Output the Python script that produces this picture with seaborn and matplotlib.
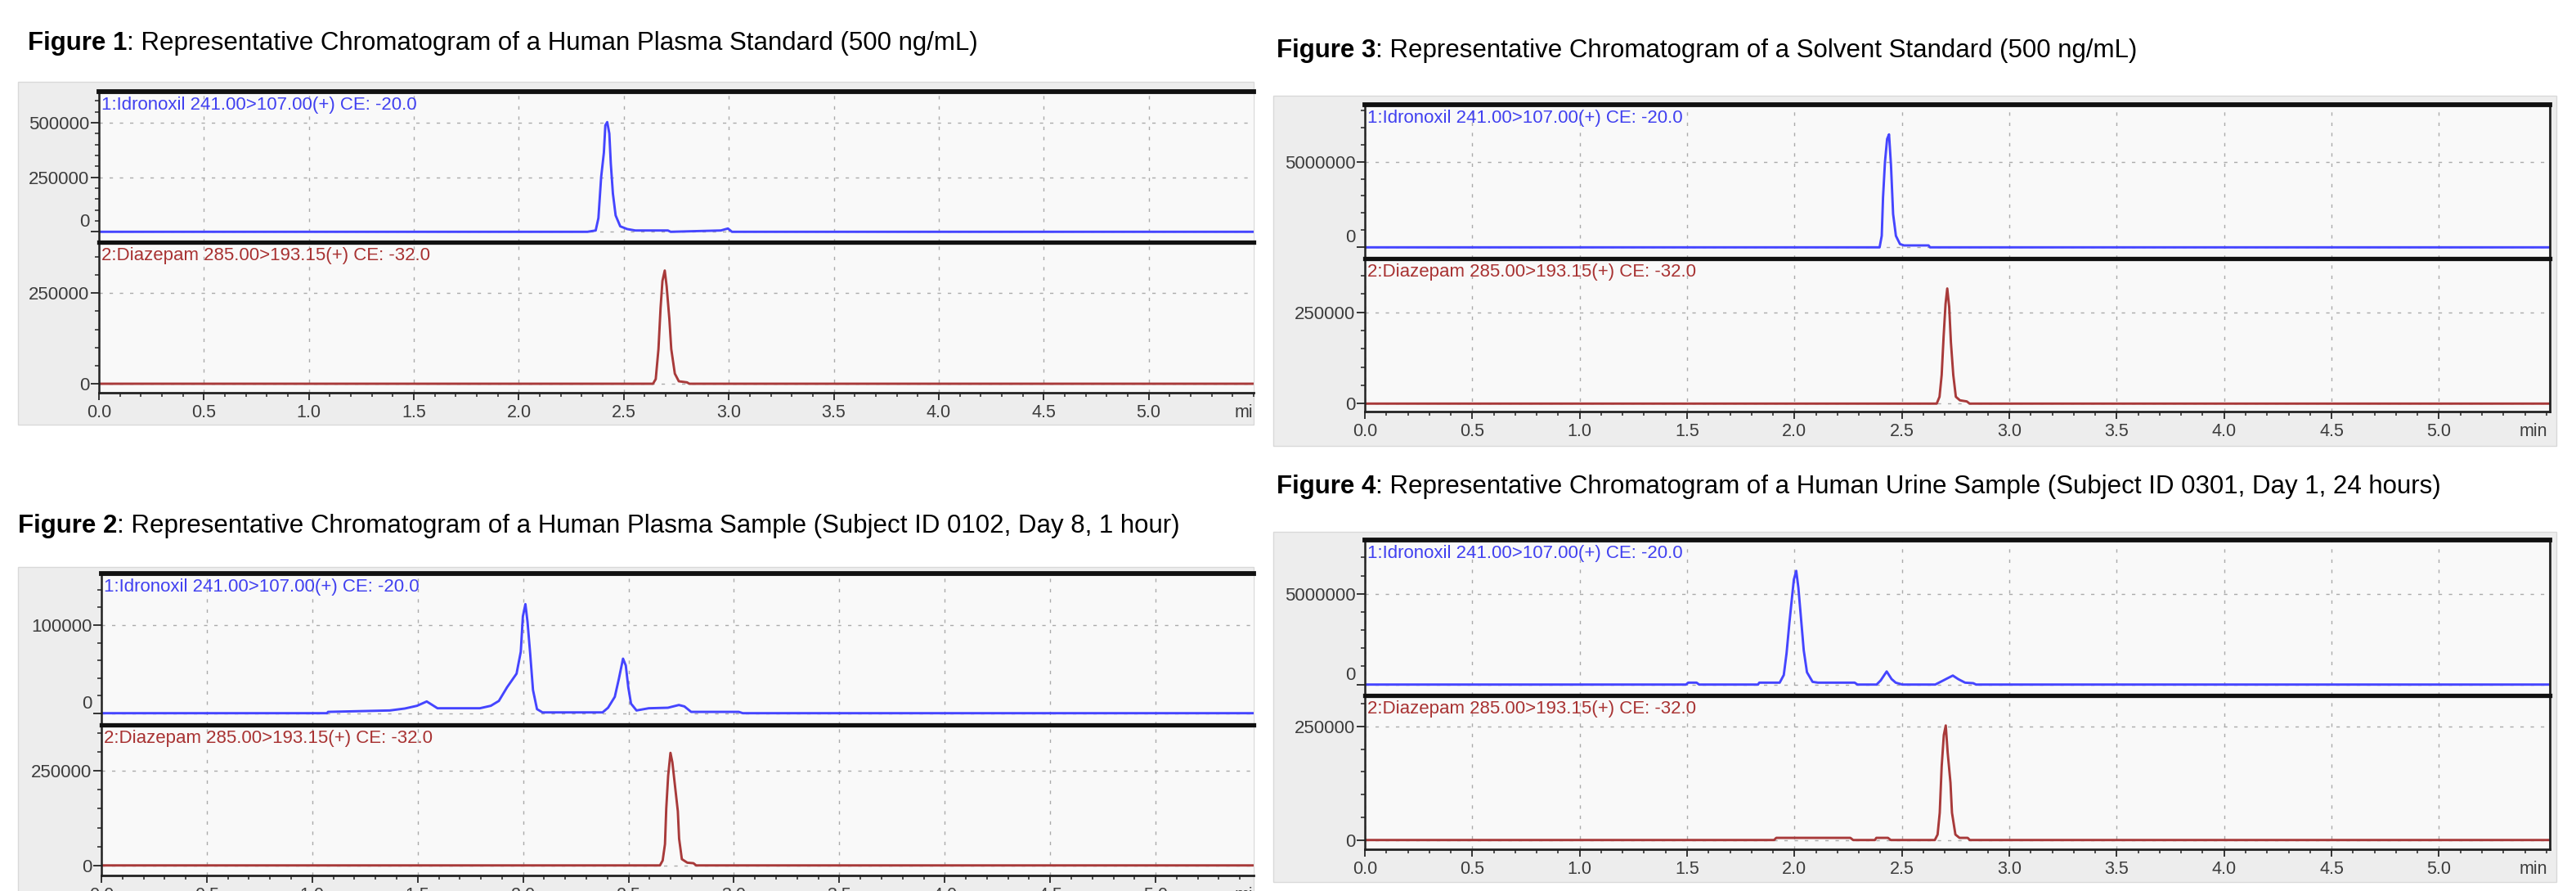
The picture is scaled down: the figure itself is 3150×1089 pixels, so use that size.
import matplotlib
matplotlib.use("Agg")
import matplotlib.pyplot as plt
import seaborn as sns
from matplotlib.patches import Rectangle
from matplotlib.ticker import FixedLocator, MultipleLocator, FuncFormatter, FormatStrFormatter
from matplotlib.transforms import ScaledTranslation, Bbox, TransformedBbox

sns.set_theme(style="white")
plt.rcParams["font.family"] = ["Liberation Sans", "DejaVu Sans"]

W, H, DPI = 3150, 1089, 100

# ---- traces: time (min) / intensity ----
fig1_ido_t = [0.0, 2.327, 2.366, 2.379, 2.392, 2.405, 2.412, 2.421, 2.431, 2.438, 2.448, 2.461,
              2.483, 2.516, 2.555, 2.710, 2.723, 2.962, 2.996, 3.015, 5.6]
fig1_ido_y = [0, 0, 6000, 62500, 250000, 362500, 487500, 502500, 450000, 312500, 175000, 75000,
              25000, 12500, 6000, 6000, 0, 6000, 15000, 0, 0]
fig1_dzp_t = [0.0, 2.639, 2.652, 2.665, 2.675, 2.684, 2.695, 2.704, 2.717, 2.726, 2.743, 2.762,
              2.801, 2.812, 5.6]
fig1_dzp_y = [0, 0, 12800, 95600, 208600, 283900, 312500, 268800, 178500, 95600, 27900, 6800,
              3800, 0, 0]

fig2_ido_t = [0.0, 1.070, 1.075, 1.368, 1.439, 1.497, 1.543, 1.594, 1.795, 1.847, 1.885, 1.924,
              1.969, 1.989, 1.999, 2.011, 2.021, 2.034, 2.047, 2.066, 2.092, 2.377, 2.403, 2.435,
              2.454, 2.474, 2.487, 2.499, 2.512, 2.538, 2.596, 2.687, 2.739, 2.765, 2.797, 3.023,
              3.042, 5.6]
fig2_ido_y = [0, 0, 1500, 3100, 5300, 8400, 13300, 5600, 5600, 8400, 13900, 29400,
              44900, 69700, 109900, 123800, 103700, 66600, 26300, 4600, 900, 900, 6200, 18600,
              38700, 61900, 54200, 29400, 10800, 3100, 5600, 6200, 9300, 7700, 1500, 1500,
              0, 0]
fig2_dzp_t = [0.0, 2.649, 2.662, 2.673, 2.679, 2.688, 2.699, 2.708, 2.721, 2.734, 2.740, 2.753,
              2.779, 2.808, 2.821, 5.6]
fig2_dzp_y = [0, 0, 13000, 56400, 150300, 237000, 298000, 273100, 208100, 143100, 70800, 16600,
              7200, 5800, 0, 0]

fig3_ido_t = [0.0, 2.396, 2.406, 2.412, 2.421, 2.431, 2.440, 2.449, 2.459, 2.472, 2.491, 2.510,
              2.624, 2.631, 5.6]
fig3_ido_y = [0, 0, 669000, 2900000, 4970000, 6320000, 6590000, 4810000, 1940000, 669000, 191000,
              111000, 111000, 0, 0]
fig3_dzp_t = [0.0, 2.662, 2.675, 2.685, 2.694, 2.703, 2.711, 2.720, 2.728, 2.739, 2.751, 2.770,
              2.802, 2.815, 5.6]
fig3_dzp_y = [0, 0, 18700, 78400, 182800, 272400, 314900, 264900, 167900, 78400, 18700, 9000,
              6000, 0, 0]

fig4_ido_t = [0.0, 1.495, 1.505, 1.544, 1.556, 1.830, 1.836, 1.931, 1.950, 1.963, 1.976, 1.989,
              1.997, 2.008, 2.018, 2.030, 2.043, 2.058, 2.084, 2.109, 2.280, 2.293, 2.382, 2.401,
              2.429, 2.452, 2.471, 2.502, 2.655, 2.680, 2.712, 2.737, 2.762, 2.794, 2.832, 2.845,
              5.6]
fig4_ido_y = [0, 0, 105000, 105000, 0, 0, 105000, 105000, 525000, 1730000, 3380000, 4880000,
              5780000, 6260000, 5330000, 3680000, 1880000, 676000, 150000, 105000, 105000, 0, 0, 225000,
              721000, 300000, 105000, 0, 0, 150000, 345000, 495000, 300000, 105000, 75000, 0,
              0]
fig4_dzp_t = [0.0, 1.905, 1.915, 2.260, 2.273, 2.374, 2.381, 2.435, 2.448, 2.653, 2.666, 2.676,
              2.685, 2.695, 2.704, 2.713, 2.726, 2.733, 2.749, 2.768, 2.806, 2.816, 5.6]
fig4_dzp_y = [0, 0, 4800, 4800, 0, 0, 4800, 4800, 0, 0, 12000, 60000,
              161900, 230800, 251800, 191800, 125900, 60000, 12000, 4800, 4800, 0, 0]

# ---- texts and tick values ----
IDO_LABEL = "1:Idronoxil 241.00>107.00(+) CE: -20.0"
DZP_LABEL = "2:Diazepam 285.00>193.15(+) CE: -32.0"
fig_nums = ["Figure 1", "Figure 2", "Figure 3", "Figure 4"]
fig_titles = [
    ": Representative Chromatogram of a Human Plasma Standard (500 ng/mL)",
    ": Representative Chromatogram of a Human Plasma Sample (Subject ID 0102, Day 8, 1 hour)",
    ": Representative Chromatogram of a Solvent Standard (500 ng/mL)",
    ": Representative Chromatogram of a Human Urine Sample (Subject ID 0301, Day 1, 24 hours)",
]
time_majors = [0.0, 0.5, 1.0, 1.5, 2.0, 2.5, 3.0, 3.5, 4.0, 4.5, 5.0]
ido_majors = [[0, 250000, 500000], [0, 100000], [0, 5000000], [0, 5000000]]
ido_minor = [50000, 20000, 1000000, 1000000]
dzp_majors = [[0, 250000], [0, 250000], [0, 250000], [0, 250000]]
dzp_minor = [50000, 50000, 50000, 50000]

# ---- layout in reference pixels (top-left origin) ----
panels = [
    dict(left=121, right=1533, top=112, mid=296, bot=480, xmax=5.50,
         ylim_top=(-47600, 642000), ylim_bot=(-24800, 390700),
         bg=(22, 100, 1533, 519), title=(34, 61), right_spine=False),
    dict(left=124, right=1533, top=701, mid=886, bot=1070, xmax=5.465,
         ylim_top=(-13300, 158500), ylim_bot=(-26600, 372000),
         bg=(22, 693, 1533, 1095), title=(22, 651), right_spine=False),
    dict(left=1669, right=3118, top=128, mid=316, bot=503, xmax=5.516,
         ylim_top=(-654000, 8320000), ylim_bot=(-21700, 396800),
         bg=(1557, 117, 3126, 545), title=(1561, 70), right_spine=True),
    dict(left=1669, right=3118, top=660, mid=850, bot=1038, xmax=5.516,
         ylim_top=(-600000, 7960000), ylim_bot=(-20300, 317800),
         bg=(1557, 650, 3126, 1078), title=(1561, 603), right_spine=True),
]
traces = [
    (fig1_ido_t, fig1_ido_y, fig1_dzp_t, fig1_dzp_y),
    (fig2_ido_t, fig2_ido_y, fig2_dzp_t, fig2_dzp_y),
    (fig3_ido_t, fig3_ido_y, fig3_dzp_t, fig3_dzp_y),
    (fig4_ido_t, fig4_ido_y, fig4_dzp_t, fig4_dzp_y),
]

BLUE, RED = "#4545ff", "#a83a3a"
BLUE_TXT, RED_TXT = "#4040f0", "#a83232"
PANEL_BG, PLOT_BG, GRID, TICK_TXT = "#ededed", "#f9f9f9", "#ababab", "#3c3c3c"

fig = plt.figure(figsize=(W / DPI, H / DPI), dpi=DPI)
fig.patch.set_facecolor("white")


def rect(x0, y0, x1, y1):
    return [x0 / W, 1 - y1 / H, (x1 - x0) / W, (y1 - y0) / H]


def style(ax, p, ylim, majors, minor_step, lower):
    ax.set_facecolor(PLOT_BG)
    ax.set_xlim(0, p["xmax"])
    ax.set_ylim(*ylim)
    ax.xaxis.set_major_locator(FixedLocator(time_majors))
    ax.xaxis.set_minor_locator(MultipleLocator(0.1))
    ax.xaxis.set_major_formatter(FormatStrFormatter("%.1f"))
    ax.yaxis.set_major_locator(FixedLocator(majors))
    ax.yaxis.set_minor_locator(MultipleLocator(minor_step))
    ax.yaxis.set_major_formatter(FuncFormatter(lambda v, pos: f"{v:.0f}"))
    ax.grid(True, which="major", color=GRID, lw=1.0, ls=(0, (3, 6)))
    ax.set_xlabel("")
    ax.set_ylabel("")
    ax.tick_params(axis="y", which="major", direction="out", length=7, width=1.4,
                   color="#333333", labelsize=16, labelcolor=TICK_TXT, pad=1.5, left=True, right=False)
    ax.tick_params(axis="y", which="minor", direction="out", length=3.5, width=1.2,
                   color="#333333", left=True, right=False)
    if lower:
        ax.tick_params(axis="x", which="major", direction="out", length=6.5, width=1.4,
                       color="#333333", labelsize=15.5, labelcolor=TICK_TXT, pad=3.5, bottom=True)
        ax.tick_params(axis="x", which="minor", direction="out", length=3.5, width=1.2,
                       color="#333333", bottom=True)
        ax.spines["top"].set_linewidth(3.8)
        ax.spines["bottom"].set_linewidth(2.0)
        ax.spines["bottom"].set_color("#222222")
    else:
        ax.tick_params(axis="x", which="both", bottom=False, labelbottom=False)
        ax.spines["top"].set_linewidth(4.2)
        ax.spines["bottom"].set_visible(False)
    ax.spines["top"].set_color("#111111")
    ax.spines["left"].set_linewidth(1.8)
    ax.spines["left"].set_color("#222222")
    if p["right_spine"]:
        ax.spines["right"].set_linewidth(2.0)
        ax.spines["right"].set_color("#222222")
    else:
        ax.spines["right"].set_visible(False)


for i, p in enumerate(panels):
    bx0, by0, bx1, by1 = p["bg"]
    fig.add_artist(Rectangle((bx0 / W, 1 - by1 / H), (bx1 - bx0) / W, (by1 - by0) / H,
                             transform=fig.transFigure, facecolor=PANEL_BG,
                             edgecolor="#d9d9d9", lw=1, zorder=-1))

    # title: bold figure number + plain caption
    tx, ty = p["title"]
    num = fig.text(tx / W, 1 - ty / H, fig_nums[i], fontsize=22.5, fontweight="bold",
                   color="black", ha="left", va="baseline")

    ax_top = fig.add_axes(rect(p["left"], p["top"], p["right"], p["mid"]))
    ax_bot = fig.add_axes(rect(p["left"], p["mid"], p["right"], p["bot"]))
    ax_top.annotate(fig_titles[i], xy=(1, 0), xycoords=num, ha="left", va="bottom",
                    fontsize=22.5, color="black", annotation_clip=False)

    ido_t, ido_y, dzp_t, dzp_y = traces[i]
    sns.lineplot(x=ido_t, y=ido_y, ax=ax_top, color=BLUE, linewidth=2.1,
                 sort=False, estimator=None)
    sns.lineplot(x=dzp_t, y=dzp_y, ax=ax_bot, color=RED, linewidth=2.1,
                 sort=False, estimator=None)

    style(ax_top, p, p["ylim_top"], ido_majors[i], ido_minor[i], lower=False)
    style(ax_bot, p, p["ylim_bot"], dzp_majors[i], dzp_minor[i], lower=True)

    ax_top.annotate(IDO_LABEL, xy=(0, 1), xycoords="axes fraction", xytext=(2, -4.5),
                    textcoords="offset points", ha="left", va="top", fontsize=16, color=BLUE_TXT)
    ax_bot.annotate(DZP_LABEL, xy=(0, 1), xycoords="axes fraction", xytext=(2, -4.5),
                    textcoords="offset points", ha="left", va="top", fontsize=16, color=RED_TXT)

    # time unit at the end of the tick row
    if p["right_spine"]:
        ax_bot.annotate("min", xy=(1, 0), xycoords="axes fraction", xytext=(-2, -10),
                        textcoords="offset points", ha="right", va="top",
                        fontsize=15.5, color=TICK_TXT)
    else:
        unit = ax_bot.annotate("min", xy=((1510 - p["left"]) / (p["right"] - p["left"]), 0),
                               xycoords="axes fraction", xytext=(0, -10),
                               textcoords="offset points", ha="left", va="top",
                               fontsize=15.5, color=TICK_TXT, annotation_clip=False)
        unit.set_clip_box(TransformedBbox(Bbox.from_extents(0, 0, p["right"] / W, 1),
                                          fig.transFigure))
        unit.set_clip_on(True)

    # the software lifts the zero label of the upper trace off the separator
    zero_tick = ax_top.yaxis.get_major_ticks()[0]
    zero_tick.label1.set_transform(zero_tick.label1.get_transform()
                                   + ScaledTranslation(0, 14 / DPI, fig.dpi_scale_trans))

fig.savefig("out.png", dpi=DPI, facecolor="white")
